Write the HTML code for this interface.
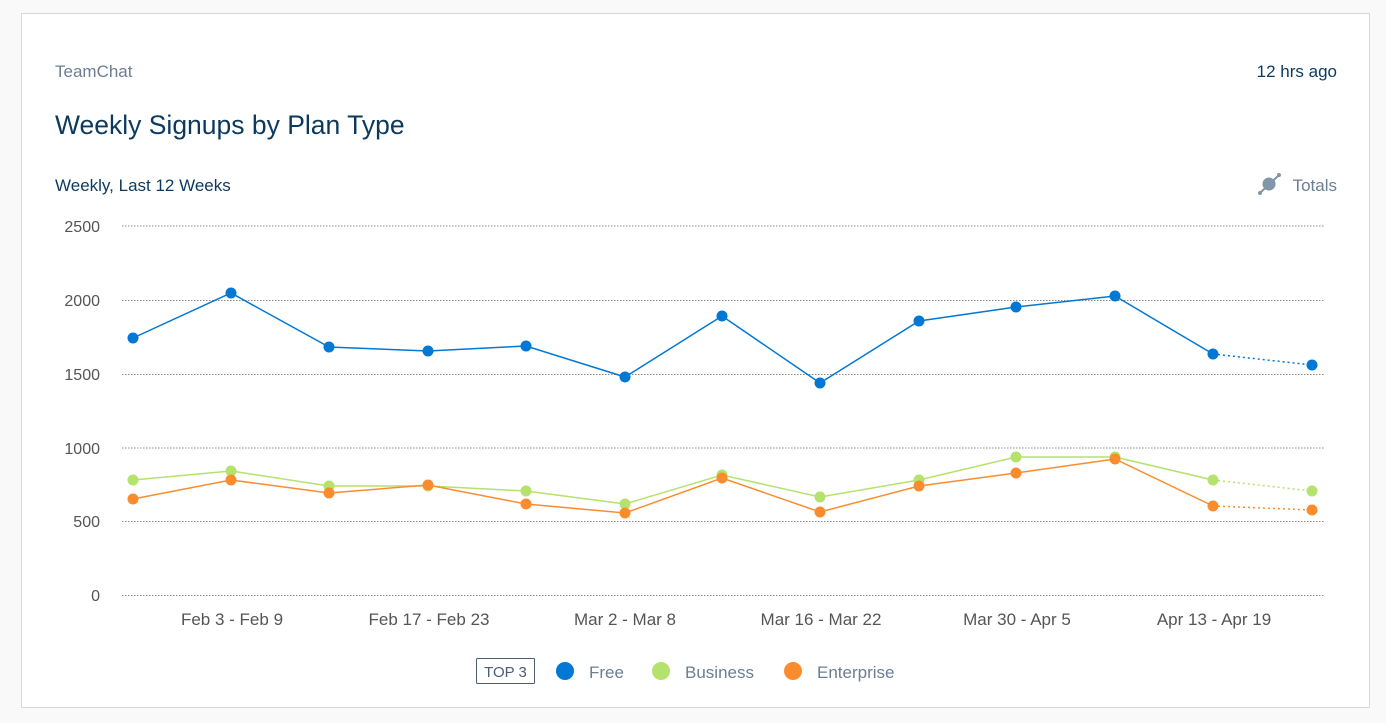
<!DOCTYPE html>
<html><head><meta charset="utf-8"><style>
html,body{margin:0;padding:0;background:#f9f9fa;width:1386px;height:723px;overflow:hidden}
svg{display:block;font-family:"Liberation Sans",sans-serif}
</style></head><body>
<svg width="1386" height="723" viewBox="0 0 1386 723">
<rect x="21.5" y="13.5" width="1348" height="694" fill="#fff" stroke="#d4d9de"/>
<text x="55" y="77" font-size="17" fill="#6b7e93">TeamChat</text>
<text x="1337" y="77" font-size="17" fill="#0b3a5e" text-anchor="end">12 hrs ago</text>
<text x="55" y="134" font-size="26.5" fill="#0b3a5e">Weekly Signups by Plan Type</text>
<text x="55" y="191" font-size="17" fill="#0b3a5e">Weekly, Last 12 Weeks</text>
<g fill="#8295a9" stroke="#8295a9">
<line x1="1260" y1="193" x2="1279" y2="175" stroke-width="2"/>
<circle cx="1269" cy="184" r="6.5" stroke="none"/>
<circle cx="1260" cy="193" r="2" stroke="none"/><circle cx="1279" cy="175" r="2" stroke="none"/>
</g>
<text x="1337" y="191" font-size="17" fill="#6b7e93" text-anchor="end">Totals</text>
<g stroke="#888" stroke-width="1" stroke-dasharray="1.5,1.5">
<line x1="122" y1="226" x2="1325" y2="226"/><line x1="122" y1="300.5" x2="1325" y2="300.5"/>
<line x1="122" y1="374.5" x2="1325" y2="374.5"/><line x1="122" y1="448" x2="1325" y2="448"/>
<line x1="122" y1="521.5" x2="1325" y2="521.5"/><line x1="122" y1="595.5" x2="1325" y2="595.5"/>
</g>
<g font-size="16" fill="#555" text-anchor="end">
<text x="100" y="232">2500</text><text x="100" y="306">2000</text><text x="100" y="380">1500</text>
<text x="100" y="454">1000</text><text x="100" y="527">500</text><text x="100" y="601">0</text>
</g>
<g font-size="17" fill="#555" text-anchor="middle">
<text x="232" y="625">Feb 3 - Feb 9</text><text x="429" y="625">Feb 17 - Feb 23</text>
<text x="625" y="625">Mar 2 - Mar 8</text><text x="821" y="625">Mar 16 - Mar 22</text>
<text x="1017" y="625">Mar 30 - Apr 5</text><text x="1214" y="625">Apr 13 - Apr 19</text>
</g>
<g fill="none" stroke-width="1.5">
<polyline stroke="#0078d4" points="133,338 231,293 329,347 428,351 526,346 625,377 722,316 820,383 919,321 1016,307 1115,296 1213,354"/>
<line stroke="#0078d4" x1="1213" y1="354" x2="1312" y2="365" stroke-dasharray="2,3"/>
<polyline stroke="#b5e26c" points="133,480 231,471 329,486 428,486 526,491 625,504 722,475 820,497 919,480 1016,457 1115,457 1213,480"/>
<line stroke="#b5e26c" x1="1213" y1="480" x2="1312" y2="491" stroke-dasharray="2,3"/>
<polyline stroke="#fb8c2e" points="133,499 231,480 329,493 428,485 526,504 625,513 722,478 820,512 919,486 1016,473 1115,459 1213,506"/>
<line stroke="#fb8c2e" x1="1213" y1="506" x2="1312" y2="510" stroke-dasharray="2,3"/>
</g>
<g fill="#0078d4">
<circle cx="133" cy="338" r="5.5"/><circle cx="231" cy="293" r="5.5"/><circle cx="329" cy="347" r="5.5"/><circle cx="428" cy="351" r="5.5"/><circle cx="526" cy="346" r="5.5"/><circle cx="625" cy="377" r="5.5"/><circle cx="722" cy="316" r="5.5"/><circle cx="820" cy="383" r="5.5"/><circle cx="919" cy="321" r="5.5"/><circle cx="1016" cy="307" r="5.5"/><circle cx="1115" cy="296" r="5.5"/><circle cx="1213" cy="354" r="5.5"/><circle cx="1312" cy="365" r="5.5"/>
</g>
<g fill="#b5e26c">
<circle cx="133" cy="480" r="5.5"/><circle cx="231" cy="471" r="5.5"/><circle cx="329" cy="486" r="5.5"/><circle cx="428" cy="486" r="5.5"/><circle cx="526" cy="491" r="5.5"/><circle cx="625" cy="504" r="5.5"/><circle cx="722" cy="475" r="5.5"/><circle cx="820" cy="497" r="5.5"/><circle cx="919" cy="480" r="5.5"/><circle cx="1016" cy="457" r="5.5"/><circle cx="1115" cy="457" r="5.5"/><circle cx="1213" cy="480" r="5.5"/><circle cx="1312" cy="491" r="5.5"/>
</g>
<g fill="#fb8c2e">
<circle cx="133" cy="499" r="5.5"/><circle cx="231" cy="480" r="5.5"/><circle cx="329" cy="493" r="5.5"/><circle cx="428" cy="485" r="5.5"/><circle cx="526" cy="504" r="5.5"/><circle cx="625" cy="513" r="5.5"/><circle cx="722" cy="478" r="5.5"/><circle cx="820" cy="512" r="5.5"/><circle cx="919" cy="486" r="5.5"/><circle cx="1016" cy="473" r="5.5"/><circle cx="1115" cy="459" r="5.5"/><circle cx="1213" cy="506" r="5.5"/><circle cx="1312" cy="510" r="5.5"/>
</g>
<rect x="476.5" y="658.5" width="58" height="25" fill="#fff" stroke="#4a5d73" rx="1"/>
<text x="505.5" y="677" font-size="15" fill="#4a5d73" text-anchor="middle">TOP 3</text>
<circle cx="565" cy="671" r="9" fill="#0078d4"/>
<text x="589" y="678" font-size="17" fill="#6b7e93">Free</text>
<circle cx="661" cy="671" r="9" fill="#b5e26c"/>
<text x="685" y="678" font-size="17" fill="#6b7e93">Business</text>
<circle cx="793" cy="671" r="9" fill="#fb8c2e"/>
<text x="817" y="678" font-size="17" fill="#6b7e93">Enterprise</text>
</svg>
</body></html>
